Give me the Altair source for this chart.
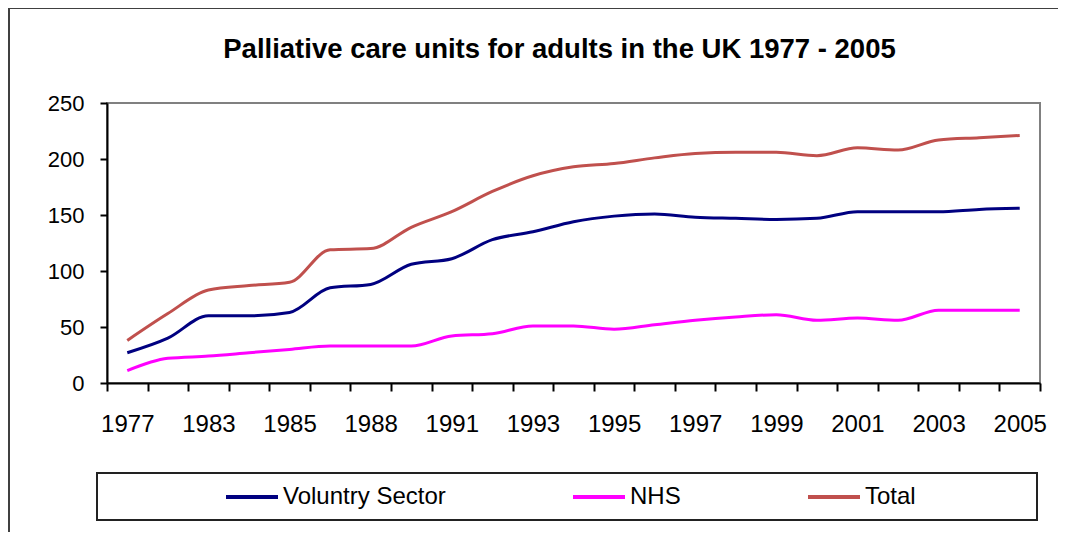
import json
import altair as alt
import pandas as pd

# ---- data ----
years = ["1977", "1980", "1983", "1984", "1985", "1986", "1988", "1989", "1991", "1992",
         "1993", "1994", "1995", "1996", "1997", "1998", "1999", "2000", "2001", "2002",
         "2003", "2004", "2005"]
shown_years = ["1977", "1983", "1985", "1988", "1991", "1993", "1995", "1997", "1999",
               "2001", "2003", "2005"]
voluntary = [27, 40, 60, 60, 63, 85, 88, 106, 111, 128, 135, 144, 149, 151, 148, 147,
             146, 147, 153, 153, 153, 155, 156]
nhs = [11, 22, 24, 27, 30, 33, 33, 33, 42, 44, 51, 51, 48, 52, 56, 59, 61, 56, 58, 56,
       65, 65, 65]
total = [38, 62, 83, 87, 90, 119, 120, 139, 153, 171, 185, 193, 196, 201, 205, 206, 206,
         203, 210, 208, 217, 219, 221]
series_names = ["Voluntry Sector", "NHS", "Total"]
series_colors = ["#000080", "#FF00FF", "#C0504D"]
y_ticks = [0, 50, 100, 150, 200, 250]
title_text = "Palliative care units for adults in the UK 1977 - 2005"

rows = []
for name, vals in zip(series_names, [voluntary, nhs, total]):
    for yr, v in zip(years, vals):
        rows.append({"year": yr, "series": name, "value": v})
df = pd.DataFrame(rows)

FONT = "Liberation Sans"
W, H = 933, 280

label_expr = "indexof(" + json.dumps(shown_years) + ", datum.value) >= 0 ? datum.value : ''"

lines = alt.Chart(df).mark_line(strokeWidth=3, interpolate="monotone").encode(
    x=alt.X(
        "year:O",
        sort=years,
        bandPosition=0.5,
        scale=alt.Scale(type="band", paddingInner=0, paddingOuter=0),
        axis=alt.Axis(
            title=None, tickBand="extent", labelExpr=label_expr, labelAngle=0,
            labelOverlap=False, tickSize=8, tickColor="black", tickWidth=2,
            domainColor="black", domainWidth=2, labelFont=FONT, labelFontSize=24,
            labelColor="black", labelPadding=21,
        ),
    ),
    y=alt.Y(
        "value:Q",
        scale=alt.Scale(domain=[0, 250], nice=False),
        axis=alt.Axis(
            title=None, values=y_ticks, grid=False, tickSize=7, tickColor="black",
            tickWidth=2, domainColor="black", domainWidth=2, labelFont=FONT,
            labelFontSize=22, labelColor="black", labelPadding=16,
        ),
    ),
    color=alt.Color(
        "series:N",
        scale=alt.Scale(domain=series_names, range=series_colors),
        legend=alt.Legend(
            title=None, orient="none", legendX=117, legendY=366,
            direction="horizontal", columns=3, columnPadding=119,
            symbolType="stroke", symbolSize=2704, symbolStrokeWidth=4,
            labelFont=FONT, labelFontSize=24, labelColor="black", labelOffset=3,
            labelLimit=0,
        ),
    ),
)

box_data = pd.DataFrame({"k": [0]})
legend_box = alt.Chart(box_data).mark_rect(filled=False, stroke="#222222", strokeWidth=2).encode(
    x=alt.value(-10), x2=alt.value(930), y=alt.value(370), y2=alt.value(417)
)
outer_box = alt.Chart(box_data).mark_rect(filled=False, stroke="#404040", strokeWidth=2).encode(
    x=alt.value(-98), x2=alt.value(W + 80), y=alt.value(-95), y2=alt.value(H + 250)
)
title_mark = alt.Chart(box_data).mark_text(
    font=FONT, fontSize=27.5, fontWeight="bold", color="black",
    align="center", baseline="alphabetic",
).encode(
    x=alt.value(W / 2 - 14), y=alt.value(-45), text=alt.value(title_text)
)

chart = alt.layer(outer_box, legend_box, title_mark, lines).properties(
    width=W,
    height=H,
    autosize="none",
    padding={"left": 99, "top": 95, "right": 18, "bottom": 149},
    background="white",
).configure_view(stroke="#808080", strokeWidth=2)

chart.save("out.html", embed_options={"renderer": "svg", "actions": False})
